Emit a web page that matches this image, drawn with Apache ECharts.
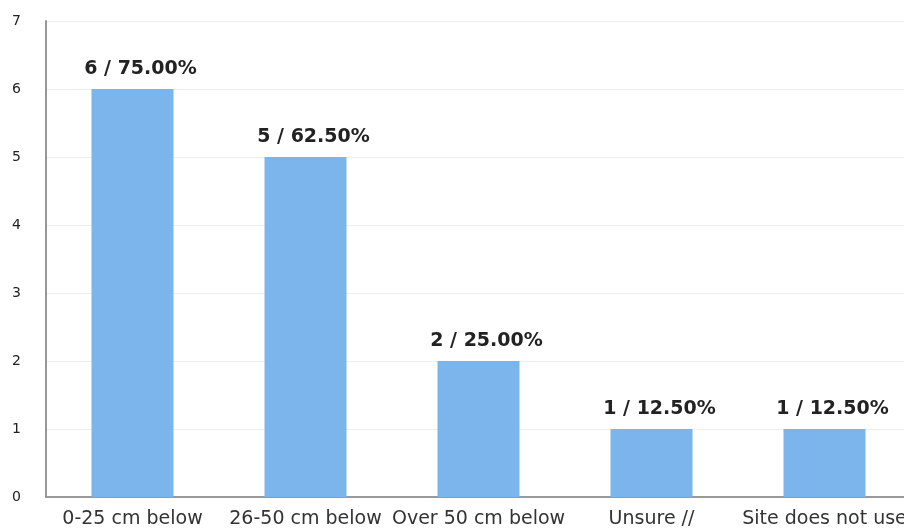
<!DOCTYPE html>
<html><head><meta charset="utf-8">
<script src="https://cdn.jsdelivr.net/npm/echarts@6/dist/echarts.min.js"></script>
<style>html,body{margin:0;padding:0;background:#fff}#c{width:904px;height:531px}</style>
</head><body><div id="c"></div>
<script>
const categories = ["0-25 cm below", "26-50 cm below", "Over 50 cm below", "Unsure //", "Site does not use"];
const counts = [6, 5, 2, 1, 1];
const percents = ["75.00%", "62.50%", "25.00%", "12.50%", "12.50%"];
const yTicks = [0, 1, 2, 3, 4, 5, 6, 7];

const chart = echarts.init(document.getElementById('c'));
chart.setOption({
  animation: false,
  grid: { left: 46, top: 21, bottom: 34, width: 865, containLabel: false, outerBoundsMode: 'none' },
  xAxis: {
    type: 'category', data: categories,
    axisLine: { lineStyle: { color: '#999', width: 2 } },
    axisTick: { show: false },
    axisLabel: { color: '#333', fontFamily: 'DejaVu Sans', fontSize: 19, margin: 13, interval: 0 }
  },
  yAxis: {
    type: 'value', min: yTicks[0], max: yTicks[yTicks.length - 1], interval: 1,
    axisLine: { show: true, lineStyle: { color: '#999', width: 2 } },
    axisTick: { show: false },
    splitLine: { lineStyle: { color: '#eee' } },
    axisLabel: { color: '#222', fontFamily: 'DejaVu Sans', fontSize: 14, margin: 25 }
  },
  series: [{
    type: 'bar', data: counts, barWidth: 82,
    itemStyle: { color: '#7cb5ec' },
    label: {
      show: true, position: 'top', distance: 10, offset: [8, 0],
      fontFamily: 'DejaVu Sans', fontWeight: 'bold', fontSize: 19, color: '#222',
      formatter: p => counts[p.dataIndex] + ' / ' + percents[p.dataIndex]
    }
  }]
});
</script></body></html>
